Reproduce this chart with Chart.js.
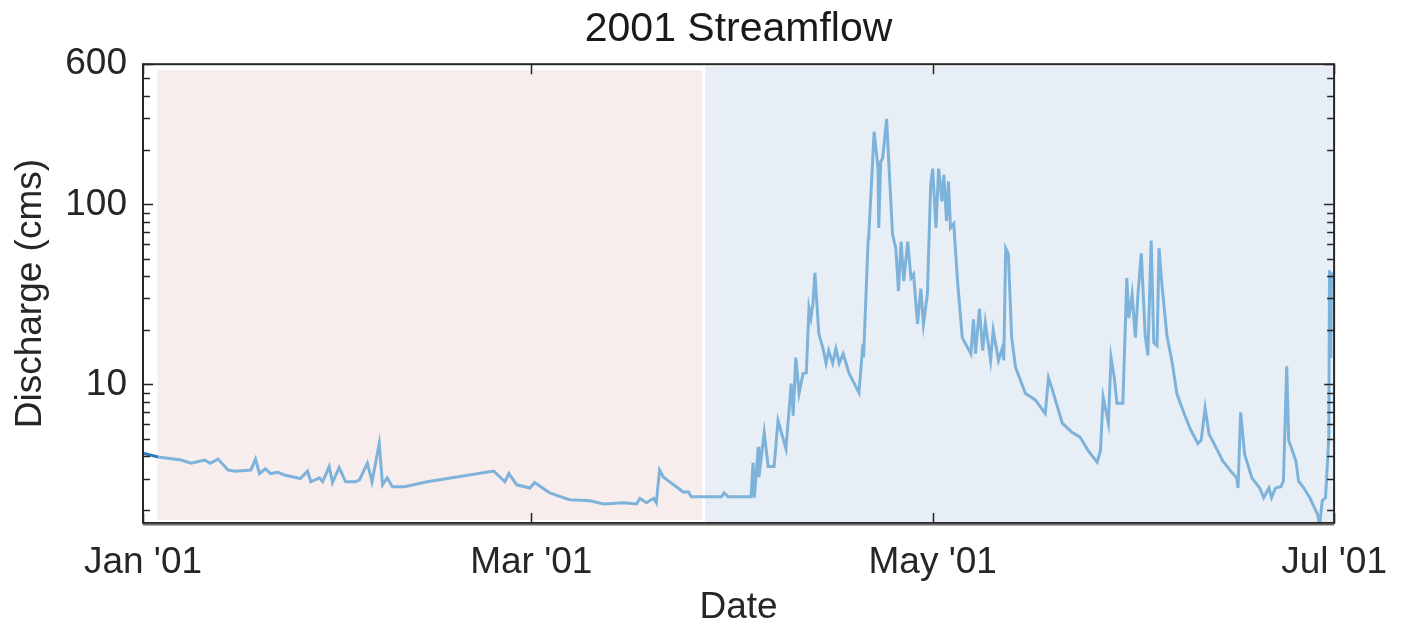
<!DOCTYPE html>
<html>
<head>
<meta charset="utf-8">
<script src="https://cdn.jsdelivr.net/npm/chart.js@4"></script>
<style>
  html, body { margin: 0; padding: 0; background: #fff; }
  #flow { display: block; }
</style>
</head>
<body>
<canvas id="flow" width="1405" height="634"></canvas>
<script>
// days since Jan 1 2001
const days = [
  0.0, 2.3, 5.8, 7.3, 9.4, 10.2, 11.4, 12.9, 13.9, 16.4, 17.1, 17.7, 18.6, 19.4, 20.5,
  21.5, 23.0, 23.9, 25.0, 25.5, 26.8, 27.3, 28.3, 28.8, 29.8, 30.8, 32.3, 32.9, 34.1,
  34.8, 35.9, 36.4, 37.1, 37.9, 39.7, 43.2, 53.3, 55.0, 55.6, 56.8, 58.8, 59.5, 61.8,
  64.8, 67.9, 70.0, 73.0, 75.0, 75.5, 76.5, 77.6, 78.0, 78.5, 79.1, 82.1, 82.9, 83.3,
  85.2, 87.9, 88.3, 88.9, 92.4, 92.7, 92.9, 93.5, 93.6, 94.4, 95.0, 95.9, 96.5, 97.7,
  98.5, 98.8, 99.2, 99.7, 100.3, 100.8, 101.2, 101.5, 101.8, 102.1, 102.7, 103.3, 103.8,
  104.2, 104.8, 105.3, 105.8, 106.4, 107.3, 108.8, 109.4, 109.5, 110.2, 110.3, 111.1,
  111.7, 111.8, 112.1, 112.4, 113.0, 113.3, 113.9, 114.4, 114.8, 115.2, 115.6, 116.2,
  116.7, 117.1, 117.7, 118.2, 118.6, 119.2, 119.4, 119.7, 120.0, 120.5, 120.9, 121.4,
  121.7, 122.1, 122.4, 122.7, 123.2, 123.8, 124.5, 125.0, 125.8, 126.2, 126.5, 127.1,
  127.6, 128.0, 128.8, 129.2, 130.0, 130.6, 130.8, 131.1, 131.5, 132.0, 132.6, 134.1,
  135.6, 137.1, 137.6, 138.2, 139.7, 141.2, 142.4, 143.6, 145.0, 145.5, 145.9, 146.7,
  147.1, 147.6, 148.0, 148.9, 149.5, 149.8, 150.3, 150.8, 151.2, 151.7, 152.3, 152.7,
  153.2, 153.6, 154.1, 154.4, 154.8, 155.6, 156.4, 157.1, 158.2, 159.2, 160.3, 160.8,
  161.4, 162.0, 163.0, 164.1, 165.3, 166.2, 166.4, 166.8, 167.4, 168.5, 169.7, 170.3,
  171.1, 171.5, 172.1, 172.9, 173.3, 173.8, 174.1, 175.2, 175.6, 176.4, 177.3, 178.0,
  178.5, 178.8, 179.2, 179.7, 180.2, 180.3, 180.5, 180.6
];
// discharge in cms
const discharge = [
  4.15, 3.95, 3.8, 3.65, 3.8, 3.65, 3.85, 3.35, 3.3, 3.35, 3.85, 3.2, 3.4, 3.2, 3.25,
  3.14, 3.05, 3.0, 3.3, 2.88, 3.03, 2.88, 3.5, 2.85, 3.45, 2.88, 2.88, 2.95, 3.65,
  2.88, 4.7, 2.77, 3.03, 2.7, 2.7, 2.88, 3.3, 2.88, 3.2, 2.77, 2.66, 2.85, 2.5,
  2.29, 2.26, 2.17, 2.2, 2.17, 2.33, 2.2, 2.33, 2.2, 3.35, 3.05, 2.53, 2.53, 2.38,
  2.38, 2.38, 2.5, 2.38, 2.38, 3.67, 2.35, 4.5, 3.05, 5.4, 3.5, 3.5, 6.3, 4.4,
  10.1, 6.7, 14.1, 8.9, 11.5, 11.6, 26.6, 23.4, 28, 41.6, 19.1, 16, 13.1,
  15.4, 13.1, 15.8, 13.1, 14.8, 11.5, 9.0, 16.8, 14.1, 65, 68, 253,
  158, 74, 173, 180, 298, 180, 68, 57, 33, 62, 37.5, 62,
  39, 41, 21.7, 34, 21.7, 31.8, 57, 128, 158, 74, 158, 104,
  146, 81, 134, 74, 78, 36.5, 18.2, 16.8, 14.8, 23, 14.8, 26.3,
  15.4, 22, 13.6, 20, 13.6, 16, 13.6, 57, 53, 18.2, 12.4, 8.9,
  8.2, 6.9, 10.9, 9.3, 6.1, 5.4, 5.1, 4.3, 3.7, 4.3, 8.5, 6.1,
  14.1, 10.9, 7.85, 7.85, 39, 23.4, 31.8, 18.2, 31.8, 53.5, 18.6, 14.5,
  63, 17, 16.4, 57, 37, 18.6, 13.2, 8.9, 6.9, 5.6, 4.7, 4.9,
  7.4, 5.3, 4.5, 3.75, 3.3, 3.03, 2.66, 7.0, 4.1, 3.03, 2.66, 2.35,
  2.66, 2.35, 2.66, 2.7, 2.9, 12.6, 4.9, 3.75, 2.9, 2.66, 2.35, 2.07,
  1.89, 1.65, 2.26, 2.35, 5.1, 43, 14, 42
];

// axis ticks
const xTickDays = [0, 59, 120, 181];
const xTickLabels = ["Jan '01", "Mar '01", "May '01", "Jul '01"];
const yTickValues = [2, 3, 4, 5, 6, 7, 8, 9, 10, 20, 30, 40, 50, 60, 70, 80, 90, 100, 200, 300, 400, 500, 600];
const yLabelled = [10, 100, 600];

// shaded periods (days since Jan 1)
const periodStart = [2.2, 85.4];
const periodEnd = [85.0, 181];
const periodColors = ['#f7eded', '#e8eef6'];

const FONT = 'Liberation Sans, Arial, Helvetica, sans-serif';
const AXIS_COLOR = '#262626';

const points = days.map((d, i) => ({ x: d, y: discharge[i] }));

// shaded backgrounds behind the line
const shading = {
    id: 'shading',
    beforeDatasetsDraw: (chart) => {
        const ctx = chart.ctx;
        const area = chart.chartArea;
        const xs = chart.scales.x;
        ctx.save();
        periodStart.forEach((start, i) => {
            const x0 = xs.getPixelForValue(start);
            const x1 = Math.min(xs.getPixelForValue(periodEnd[i]), area.right);
            const inset = i === 0 ? 6 : 2;
            ctx.fillStyle = periodColors[i];
            ctx.fillRect(x0, area.top + inset, x1 - x0, area.bottom - area.top - inset - (i === 0 ? 3 : 0));
        });
        ctx.restore();
    }
};

// matlab-ish box with inward ticks
const boxTicks = {
    id: 'boxTicks',
    afterDraw: (chart) => {
        const ctx = chart.ctx;
        const a = chart.chartArea;
        const xs = chart.scales.x;
        const ys = chart.scales.y;
        ctx.save();
        ctx.strokeStyle = AXIS_COLOR;
        ctx.lineWidth = 1.5;
        ctx.beginPath();
        yTickValues.forEach(v => {
            const y = Math.round(ys.getPixelForValue(v)) + 0.5;
            const len = yLabelled.includes(v) ? 10 : 7;
            ctx.moveTo(a.left, y); ctx.lineTo(a.left + len, y);
            ctx.moveTo(a.right, y); ctx.lineTo(a.right - len, y);
        });
        xTickDays.forEach(d => {
            const x = Math.round(xs.getPixelForValue(d)) + 0.5;
            ctx.moveTo(x, a.bottom); ctx.lineTo(x, a.bottom - 10);
            ctx.moveTo(x, a.top); ctx.lineTo(x, a.top + 10);
        });
        ctx.stroke();
        ctx.lineWidth = 2;
        ctx.strokeRect(a.left, a.top, a.right - a.left, a.bottom - a.top);
        ctx.strokeStyle = '#6b6b6b';
        ctx.beginPath();
        ctx.moveTo(a.left, a.bottom + 1.5); ctx.lineTo(a.right, a.bottom + 1.5);
        ctx.stroke();
        ctx.restore();
    }
};

new Chart(document.getElementById('flow'), {
    type: 'line',
    data: {
        datasets: [{
            data: points,
            borderColor: '#7db3da',
            borderWidth: 3,
            pointRadius: 0,
            tension: 0,
            segment: {
                borderColor: c => c.p0DataIndex === 0 ? '#2f7bbf' : undefined
            }
        }]
    },
    options: {
        responsive: false,
        animation: false,
        layout: { padding: { left: 0, right: 70, top: 0, bottom: 0 } },
        plugins: {
            legend: { display: false },
            tooltip: { enabled: false },
            title: {
                display: true,
                fullSize: false,
                text: '2001 Streamflow',
                color: '#1a1a1a',
                font: { family: FONT, size: 41, weight: 'normal' },
                padding: { top: 5, bottom: 10 }
            }
        },
        scales: {
            x: {
                type: 'linear',
                min: 0,
                max: 181,
                grid: { display: false, drawTicks: false },
                border: { display: false },
                afterBuildTicks: s => { s.ticks = xTickDays.map(v => ({ value: v })); },
                afterFit: s => { s.height = 111; },
                ticks: {
                    padding: 18,
                    maxRotation: 0,
                    autoSkip: false,
                    color: AXIS_COLOR,
                    font: { family: FONT, size: 37 },
                    callback: v => xTickLabels[xTickDays.indexOf(v)]
                },
                title: {
                    display: true,
                    text: 'Date',
                    color: AXIS_COLOR,
                    font: { family: FONT, size: 37 },
                    padding: { top: 0, bottom: 4 }
                }
            },
            y: {
                type: 'logarithmic',
                min: 1.7,
                max: 600,
                grid: { display: false, drawTicks: false },
                border: { display: false },
                afterBuildTicks: s => { s.ticks = yTickValues.map(v => ({ value: v })); },
                afterFit: s => { s.width = 143; },
                ticks: {
                    padding: 16,
                    autoSkip: false,
                    color: AXIS_COLOR,
                    font: { family: FONT, size: 37 },
                    callback: v => yLabelled.includes(v) ? String(v) : ''
                },
                title: {
                    display: true,
                    text: 'Discharge (cms)',
                    color: AXIS_COLOR,
                    font: { family: FONT, size: 37 },
                    padding: { top: 9, bottom: 0 }
                }
            }
        }
    },
    plugins: [shading, boxTicks]
});
</script>
</body>
</html>
